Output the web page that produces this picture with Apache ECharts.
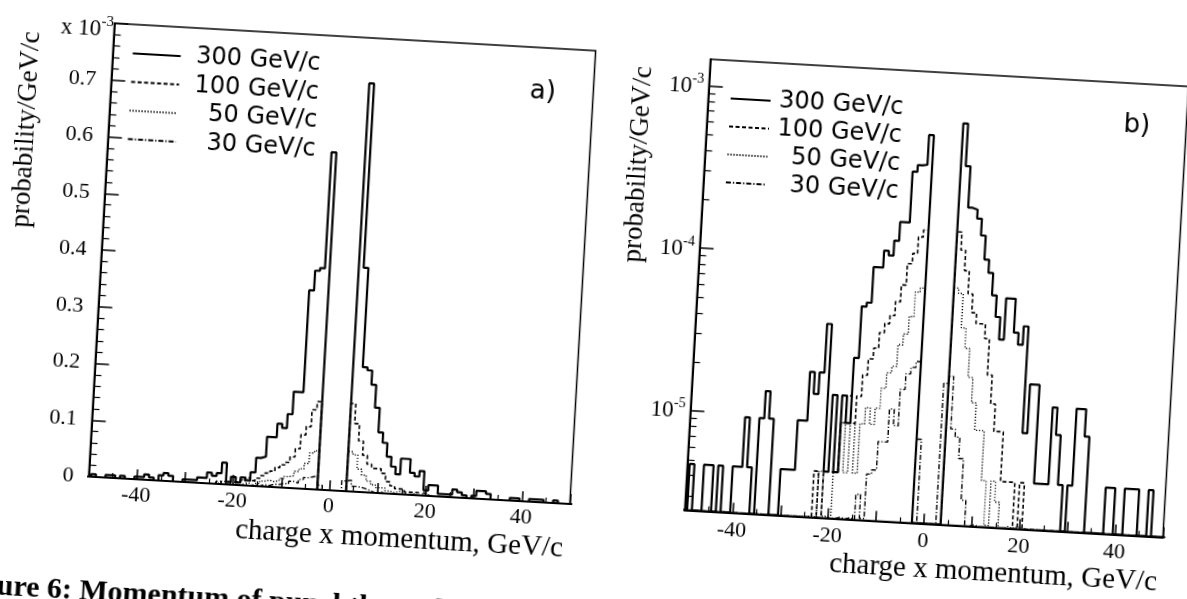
<!DOCTYPE html>
<html>
<head>
<meta charset="utf-8">
<script src="https://cdn.jsdelivr.net/npm/echarts@6/dist/echarts.min.js"></script>
<style>
html,body{margin:0;padding:0;width:1187px;height:599px;overflow:hidden;background:#fff;}
#c{position:absolute;left:-60px;top:-60px;width:1307px;height:719px;transform:rotate(3.26deg);transform-origin:653.5px 359.5px;}
</style>
</head>
<body>
<div id="c"></div>
<script>
// ---------- data (probability/GeV/c in units of 1e-3, 1 GeV/c bins) ----------
const binCenters = [-50,-49,-48,-47,-46,-45,-44,-43,-42,-41,-40,-39,-38,-37,-36,-35,-34,-33,-32,-31,
  -30,-29,-28,-27,-26,-25,-24,-23,-22,-21,-20,-19,-18,-17,-16,-15,-14,-13,-12,-11,
  -10,-9,-8,-7,-6,-5,-4,-3,-2,-1,0,1,2,3,4,5,6,7,8,9,10,11,12,13,14,15,16,17,18,19,
  20,21,22,23,24,25,26,27,28,29,30,31,32,33,34,35,36,37,38,39,40,41,42,43,44,45,46,47,48,49,50];

const p300 = [0,0.0047,0,0,0.0047,0.0047,0,0.0047,0,0,
  0.0047,0.0047,0.0095,0.0047,0,0.0095,0.014,0.0095,0,0,
  0.0047,0.0047,0.0047,0.0095,0.0095,0.019,0.014,0.019,0.038,0.0047,
  0.014,0.0047,0.014,0.0095,0.024,0.05,0.053,0.088,0.088,0.112,
  0.105,0.13,0.17,0.17,0.35,0.385,0.39,0.595,0,0,
  0,0,0,0,0.72,0.395,0.22,0.215,0.19,0.15,
  0.107,0.089,0.065,0.048,0.035,0.063,0.063,0.039,0.033,0.043,
  0.0095,0.019,0.019,0.0047,0.0047,0.0047,0.014,0.0095,0.0047,0,
  0.0047,0.014,0.014,0.0095,0,0,0,0,0.0047,0.0047,
  0,0,0.0047,0.0047,0.0047,0,0,0.0047,0,0,0];

const p100 = [0,0,0,0,0,0,0,0,0,0,
  0,0,0,0,0,0,0,0,0,0,
  0,0,0,0,0,0,0,0.0047,0,0.0047,
  0.0047,0.0047,0.0095,0.014,0.0095,0.014,0.019,0.024,0.028,0.035,
  0.04,0.045,0.055,0.07,0.095,0.11,0.14,0.155,0,0,
  0,0,0,0,0.155,0.12,0.09,0.065,0.05,0.043,
  0.043,0.035,0.021,0.014,0.0095,0.0095,0.0047,0.0047,0.0047,0,
  0.0047,0,0,0,0,0,0,0,0,0,
  0,0,0,0,0,0,0,0,0,0,
  0,0,0,0,0,0,0,0,0,0,0];

const p50 = [0,0,0,0,0,0,0,0,0,0,
  0,0,0,0,0,0,0,0,0,0,
  0,0,0,0,0,0,0.0025,0,0.0047,0.0025,
  0,0.0047,0.0095,0.0047,0.0095,0.0047,0.0095,0.012,0.0095,0.012,
  0.016,0.02,0.022,0.03,0.035,0.045,0.064,0.068,0,0,
  0,0,0,0,0.07,0.065,0.04,0.03,0.02,0.014,
  0.0095,0.0095,0.0047,0.0025,0.0047,0.0035,0,0.0025,0,0.0025,
  0.0025,0,0,0,0,0,0,0,0,0,
  0,0,0,0,0,0,0,0,0,0,
  0,0,0,0,0,0,0,0,0,0,0];

const p30 = [0,0,0,0,0,0,0,0,0,0,
  0,0,0,0,0,0,0,0,0,0,
  0,0,0,0,0,0,0,0,0,0,
  0,0,0.0025,0,0.0025,0,0.0035,0.0025,0.0047,0.005,
  0.0075,0.0075,0.012,0.0095,0.016,0.02,0.022,0.024,0.008,0,
  0,0,0,0.018,0.02,0.0095,0.0085,0.0063,0.0035,0,
  0.0025,0,0,0,0,0,0,0,0,0,
  0,0,0,0,0,0,0,0,0,0,
  0,0,0,0,0,0,0,0,0,0,
  0,0,0,0,0,0,0,0,0,0,0];

const seriesNames = ['300 GeV/c','100 GeV/c','50 GeV/c','30 GeV/c'];
const xTickLabels = ['-40','-20','0','20','40'];
const yTickLabels = ['0','0.1','0.2','0.3','0.4','0.5','0.6','0.7'];
const logTickExponents = [-5,-4,-3];
const logMinorTicks = [0.003,0.004,0.005,0.006,0.007,0.008,0.009,
  0.02,0.03,0.04,0.05,0.06,0.07,0.08,0.09,
  0.2,0.3,0.4,0.5,0.6,0.7,0.8,0.9];

// ---------- layout ----------
const OX = 60, OY = 60;
const SERIF = 'Liberation Serif', SANS = 'DejaVu Sans';
const G0 = {left: 99.5, top: 51, width: 482, height: 454};
const G1 = {left: 696.5, top: 53, width: 479, height: 451.5};
const LOGMIN = 0.002438, LOGMAX = 1.455;

const dataByName = {'300 GeV/c': p300, '100 GeV/c': p100, '50 GeV/c': p50, '30 GeV/c': p30};
const lineStyles = {
  '300 GeV/c': {width: 2.2, type: 'solid'},
  '100 GeV/c': {width: 1.6, type: [4, 2.5]},
  '50 GeV/c': {width: 1.4, type: [1.2, 1.8]},
  '30 GeV/c': {width: 1.4, type: [5, 2, 1.2, 2]}
};

function hist(vals, isLog) {
  const pts = binCenters.map((c, i) => [c - 0.5, isLog ? (vals[i] > 0 ? vals[i] : LOGMIN) : vals[i]]);
  pts.push([binCenters[binCenters.length - 1] + 0.5, pts[pts.length - 1][1]]);
  return pts;
}

const series = [];
[0, 1].forEach(p => {
  seriesNames.slice().reverse().forEach(name => {
    series.push({
      type: 'line', name: name, xAxisIndex: p, yAxisIndex: p,
      data: hist(dataByName[name], p === 1), step: 'end',
      symbol: 'none', showSymbol: false, legendIcon: 'line',
      lineStyle: Object.assign({color: '#000'}, lineStyles[name]),
      itemStyle: {color: '#000'}, clip: true, animation: false,
      z: name === '300 GeV/c' ? 5 : 3
    });
  });
});

function xAxis(gi) {
  return {
    gridIndex: gi, type: 'value', min: -50, max: 50, interval: 10,
    axisLine: {show: true, onZero: false, lineStyle: {color: '#000', width: 2}},
    axisTick: {show: true, inside: true, length: 10, lineStyle: {color: '#000', width: 1.5}},
    minorTick: {show: true, splitNumber: 2, length: 5, lineStyle: {color: '#000', width: 1.2}},
    splitLine: {show: false}, minorSplitLine: {show: false},
    axisLabel: {
      show: true, margin: gi === 0 ? 5 : 7, color: '#000', fontFamily: SERIF, fontSize: 22,
      formatter: v => xTickLabels.indexOf(String(Math.round(v))) >= 0 ? String(Math.round(v)) : ''
    }
  };
}

const supRich = {
  a: {fontFamily: SERIF, fontSize: 23, color: '#000', lineHeight: 26, verticalAlign: 'bottom'},
  b: {fontFamily: SERIF, fontSize: 14, color: '#000', verticalAlign: 'top'}
};

function legend(left, top, w, textW, gap, lh) {
  return {
    data: seriesNames, orient: 'vertical', left: left + OX, top: top + OY,
    itemWidth: w, itemHeight: 14, itemGap: gap, selectedMode: false,
    itemStyle: {color: 'rgba(0,0,0,0)', borderWidth: 0, opacity: 0},
    formatter: n => '{r|' + n + '}',
    textStyle: {color: '#000', fontFamily: SANS, fontSize: 24,
      rich: {r: {width: textW, align: 'right', fontFamily: SANS, fontSize: 24, lineHeight: lh, color: '#000'}}}
  };
}

const option = {
  backgroundColor: '#fff',
  animation: false,
  grid: [
    {left: G0.left + OX, top: G0.top + OY, width: G0.width, height: G0.height, show: true,
     borderColor: '#000', borderWidth: 1.5, backgroundColor: 'transparent', containLabel: false, outerBoundsMode: 'none'},
    {left: G1.left + OX, top: G1.top + OY, width: G1.width, height: G1.height, show: true,
     borderColor: '#000', borderWidth: 1.5, backgroundColor: 'transparent', containLabel: false, outerBoundsMode: 'none'}
  ],
  xAxis: [xAxis(0), xAxis(1)],
  yAxis: [
    {gridIndex: 0, type: 'value', min: 0, max: 0.8, interval: 0.1,
     axisLine: {show: true, onZero: false, lineStyle: {color: '#000', width: 2}},
     axisTick: {show: true, inside: true, length: 14, lineStyle: {color: '#000', width: 1.5}},
     minorTick: {show: true, splitNumber: 5, length: 7, lineStyle: {color: '#000', width: 1.2}},
     splitLine: {show: false}, minorSplitLine: {show: false},
     axisLabel: {margin: 15, color: '#000', fontFamily: SERIF, fontSize: 22,
       formatter: v => yTickLabels[Math.round(v * 10)] || ''}},
    {gridIndex: 1, type: 'log', logBase: 10, min: LOGMIN, max: LOGMAX, position: 'left',
     axisLine: {show: true, onZero: false, lineStyle: {color: '#000', width: 2}},
     axisTick: {show: true, inside: true, length: 14, lineStyle: {color: '#000', width: 1.5}},
     splitLine: {show: false}, minorTick: {show: false},
     axisLabel: {margin: 5, showMinLabel: false, showMaxLabel: false, rich: supRich,
       formatter: v => {
         const e = Math.log10(v), r = Math.round(e);
         if (Math.abs(e - r) > 1e-6) return '';
         const ex = r - 3;
         return logTickExponents.indexOf(ex) >= 0 ? '{a|10}{b|' + ex + '}' : '';
       }}},
    {gridIndex: 1, type: 'log', logBase: 10, min: LOGMIN, max: LOGMAX, position: 'left',
     axisLine: {show: false, onZero: false},
     axisTick: {show: true, inside: true, length: 7, customValues: logMinorTicks,
       lineStyle: {color: '#000', width: 1.2}},
     axisLabel: {show: false}, splitLine: {show: false}}
  ],
  legend: [legend(113.5, 63, 48, 135, 4.6, 24), legend(713, 74, 40, 128, 4, 22)],
  graphic: [
    {type: 'text', x: 99 + OX, y: 56 + OY, z: 10,
     style: {text: '{a|x 10}{b|-3}', align: 'right', verticalAlign: 'middle',
       rich: {a: {fontFamily: SERIF, fontSize: 23, fill: '#000', lineHeight: 26, verticalAlign: 'bottom'},
              b: {fontFamily: SERIF, fontSize: 15, fill: '#000', verticalAlign: 'top'}}}},
    {type: 'text', x: 18 + OX, y: 162 + OY, rotation: Math.PI / 2, z: 10,
     style: {text: 'probability/GeV/c', fontFamily: SERIF, fontSize: 27, fill: '#000', align: 'center', verticalAlign: 'middle'}},
    {type: 'text', x: 631 + OX, y: 162 + OY, rotation: Math.PI / 2, z: 10,
     style: {text: 'probability/GeV/c', fontFamily: SERIF, fontSize: 27, fill: '#000', align: 'center', verticalAlign: 'middle'}},
    {type: 'text', x: 413 + OX, y: 550 + OY, z: 10,
     style: {text: 'charge x momentum, GeV/c', fontFamily: SERIF, fontSize: 29, fill: '#000', align: 'center', verticalAlign: 'middle'}},
    {type: 'text', x: 1008 + OX, y: 550 + OY, z: 10,
     style: {text: 'charge x momentum, GeV/c', fontFamily: SERIF, fontSize: 29, fill: '#000', align: 'center', verticalAlign: 'middle'}},
    {type: 'text', x: 531 + OX, y: 95 + OY, z: 10,
     style: {text: 'a)', fontFamily: SANS, fontSize: 26, fill: '#000', align: 'center', verticalAlign: 'middle'}},
    {type: 'text', x: 1126 + OX, y: 95 + OY, z: 10,
     style: {text: 'b)', fontFamily: SANS, fontSize: 26, fill: '#000', align: 'center', verticalAlign: 'middle'}},
    {type: 'text', x: 14 + OX, y: 620 + OY, z: 10,
     style: {text: 'ure 6: Momentum of punchthrough particles', fontFamily: SERIF, fontSize: 30, fontWeight: 'bold',
       fill: '#000', align: 'left', verticalAlign: 'middle'}}
  ],
  series: series
};

const chart = echarts.init(document.getElementById('c'), null, {renderer: 'canvas'});
chart.setOption(option);
</script>
</body>
</html>
